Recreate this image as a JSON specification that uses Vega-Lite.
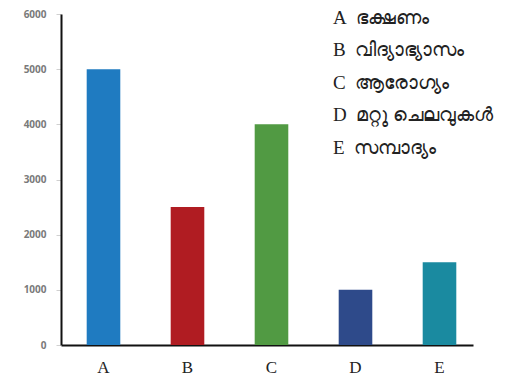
{
  "$schema": "https://vega.github.io/schema/vega-lite/v6.json",
  "width": 412,
  "height": 331,
  "autosize": {"type": "none"},
  "padding": {"left": 61, "top": 14, "right": 39, "bottom": 34},
  "background": "white",
  "config": {"view": {"stroke": null}},
  "data": {
    "values": [
      {"category": "A", "value": 5000, "name": "A\u2002ഭക്ഷണം"},
      {"category": "B", "value": 2500, "name": "B\u2002വിദ്യാഭ്യാസം"},
      {"category": "C", "value": 4000, "name": "C\u2002ആരോഗ്യം"},
      {"category": "D", "value": 1000, "name": "D\u2002മറ്റു ചെലവുകൾ"},
      {"category": "E", "value": 1500, "name": "E\u2002സമ്പാദ്യം"}
    ]
  },
  "mark": {"type": "bar"},
  "encoding": {
    "x": {
      "field": "category",
      "type": "nominal",
      "scale": {"paddingInner": 0.6, "paddingOuter": 0.2524, "align": 0.606},
      "axis": {
        "title": null,
        "labelAngle": 0,
        "ticks": false,
        "domainColor": "#111",
        "domainWidth": 2,
        "labelFont": "Liberation Serif",
        "labelFontSize": 17,
        "labelColor": "#222",
        "labelPadding": 14
      }
    },
    "y": {
      "field": "value",
      "type": "quantitative",
      "scale": {"domain": [0, 6000], "nice": false},
      "axis": {
        "title": null,
        "values": [0, 1000, 2000, 3000, 4000, 5000, 6000],
        "format": "d",
        "grid": false,
        "domainColor": "#111",
        "domainWidth": 2,
        "tickColor": "#d0d0d0",
        "tickSize": 5,
        "labelFont": "Open Sans",
        "labelFontWeight": "bold",
        "labelFontSize": 10,
        "labelColor": "#7a7a7a",
        "labelPadding": 10
      }
    },
    "color": {
      "field": "name",
      "type": "nominal",
      "scale": {"range": ["#1f7bc1", "#b01c22", "#519a43", "#2e4a8a", "#1a8aa0"]},
      "legend": {
        "title": null,
        "orient": "none",
        "legendX": 253,
        "legendY": -6,
        "symbolOpacity": 0,
        "symbolSize": 0,
        "symbolStrokeWidth": 0,
        "labelOffset": 0,
        "labelFont": "Liberation Serif",
        "labelFontSize": 19,
        "labelColor": "#222",
        "labelLimit": 300,
        "rowPadding": 12.5
      }
    }
  }
}
